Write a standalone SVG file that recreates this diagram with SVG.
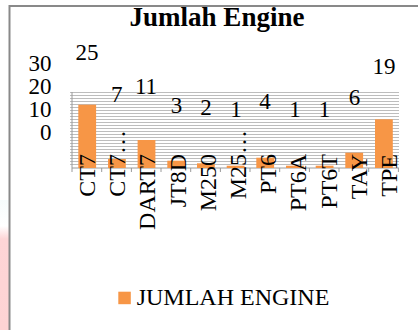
<svg xmlns="http://www.w3.org/2000/svg" width="418" height="330" viewBox="0 0 418 330" font-family="'Liberation Serif', 'Times New Roman', 'DejaVu Serif', serif">
  <defs>
    <linearGradient id="pinkfade" x1="0" y1="0" x2="0" y2="1">
      <stop offset="0" stop-color="#f6fcfc"/>
      <stop offset="0.2" stop-color="#ffffff"/>
      <stop offset="0.3" stop-color="#fdd5d6"/>
      <stop offset="1" stop-color="#fdd3d4"/>
    </linearGradient>
  </defs>
  <style>
    text { font-family: 'Liberation Serif', 'Times New Roman', 'DejaVu Serif', serif; fill: #000; }
    .t { font-size: 24px; }
    .title { font-size: 27px; font-weight: bold; }
    .grid line { stroke: #bdbdbd; stroke-width: 1; }
    .bar { fill: #f79646; }
    .cat { font-size: 24px; text-anchor: end; }
    .val { font-size: 23px; text-anchor: middle; }
    .ax { font-size: 23px; text-anchor: end; }
  </style>
  <rect x="0" y="0" width="418" height="330" fill="#ffffff"/>
  <rect x="0" y="200" width="9" height="130" fill="url(#pinkfade)"/>
  <path d="M9.5,330 V6 H418" fill="none" stroke="#898989" stroke-width="2"/>

  <g id="title">
    <text class="title" x="217" y="26" text-anchor="middle">Jumlah Engine</text>
  </g>

  <g id="y-axis-labels">
    <text class="ax" x="51.5" y="71">30</text>
    <text class="ax" x="51.5" y="94">20</text>
    <text class="ax" x="51.5" y="117">10</text>
    <text class="ax" x="51.5" y="140">0</text>
  </g>

  <g id="grid" class="grid">
    <line x1="70" y1="92.5" x2="399" y2="92.5"/>
    <line x1="70" y1="95.5" x2="399" y2="95.5"/>
    <line x1="70" y1="98.5" x2="399" y2="98.5"/>
    <line x1="70" y1="101.5" x2="399" y2="101.5"/>
    <line x1="70" y1="104.5" x2="399" y2="104.5"/>
    <line x1="70" y1="107.5" x2="399" y2="107.5"/>
    <line x1="70" y1="110.5" x2="399" y2="110.5"/>
    <line x1="70" y1="113.5" x2="399" y2="113.5"/>
    <line x1="70" y1="116.5" x2="399" y2="116.5"/>
    <line x1="70" y1="119.5" x2="399" y2="119.5"/>
    <line x1="70" y1="122.5" x2="399" y2="122.5"/>
    <line x1="70" y1="125.5" x2="399" y2="125.5"/>
    <line x1="70" y1="128.5" x2="399" y2="128.5"/>
    <line x1="70" y1="131.5" x2="399" y2="131.5"/>
    <line x1="70" y1="134.5" x2="399" y2="134.5"/>
    <line x1="70" y1="137.5" x2="399" y2="137.5"/>
    <line x1="70" y1="140.5" x2="399" y2="140.5"/>
    <line x1="70" y1="143.5" x2="399" y2="143.5"/>
    <line x1="70" y1="146.5" x2="399" y2="146.5"/>
    <line x1="70" y1="149.5" x2="399" y2="149.5"/>
    <line x1="70" y1="152.5" x2="399" y2="152.5"/>
    <line x1="70" y1="155.5" x2="399" y2="155.5"/>
    <line x1="70" y1="158.5" x2="399" y2="158.5"/>
    <line x1="70" y1="161.5" x2="399" y2="161.5"/>
    <line x1="70" y1="164.5" x2="399" y2="164.5"/>
  </g>

  <g id="axes" stroke="#9a9a9a" stroke-width="1">
    <line x1="72" y1="92" x2="72" y2="168"/>
    <line x1="72" y1="168" x2="399" y2="168"/>
    <line x1="72" y1="168" x2="72" y2="172"/>
    <line x1="101.7" y1="168" x2="101.7" y2="172"/>
    <line x1="131.4" y1="168" x2="131.4" y2="172"/>
    <line x1="161" y1="168" x2="161" y2="172"/>
    <line x1="190.7" y1="168" x2="190.7" y2="172"/>
    <line x1="220.4" y1="168" x2="220.4" y2="172"/>
    <line x1="250" y1="168" x2="250" y2="172"/>
    <line x1="279.7" y1="168" x2="279.7" y2="172"/>
    <line x1="309.4" y1="168" x2="309.4" y2="172"/>
    <line x1="339" y1="168" x2="339" y2="172"/>
    <line x1="368.7" y1="168" x2="368.7" y2="172"/>
    <line x1="398.4" y1="168" x2="398.4" y2="172"/>
  </g>

  <g id="bars">
    <rect class="bar" x="78.3" y="104.7" width="17.8" height="63.3"/>
    <rect class="bar" x="108" y="159" width="17.8" height="9"/>
    <rect class="bar" x="137.6" y="140" width="17.8" height="28"/>
    <rect class="bar" x="167.3" y="160.7" width="17.8" height="7.3"/>
    <rect class="bar" x="197" y="163.3" width="17.8" height="4.7"/>
    <rect class="bar" x="226.7" y="165.7" width="17.8" height="2.3"/>
    <rect class="bar" x="256.3" y="157.7" width="17.8" height="10.3"/>
    <rect class="bar" x="286" y="165.7" width="17.8" height="2.3"/>
    <rect class="bar" x="315.7" y="165.7" width="17.8" height="2.3"/>
    <rect class="bar" x="345.3" y="152.7" width="17.8" height="15.3"/>
    <rect class="bar" x="375" y="119.3" width="17.8" height="48.7"/>
  </g>

  <g id="value-labels">
    <text class="val" x="87" y="60">25</text>
    <text class="val" x="116.7" y="101.7">7</text>
    <text class="val" x="146" y="94.3">11</text>
    <text class="val" x="176.5" y="113.3">3</text>
    <text class="val" x="206" y="115">2</text>
    <text class="val" x="236" y="117.3">1</text>
    <text class="val" x="265" y="109.3">4</text>
    <text class="val" x="295" y="117.3">1</text>
    <text class="val" x="324.5" y="117.3">1</text>
    <text class="val" x="354.5" y="105">6</text>
    <text class="val" x="384" y="74">19</text>
  </g>

  <g id="category-labels">
    <text class="cat" transform="translate(95,154) rotate(-90)">CT7</text>
    <text class="cat" transform="translate(125.2,130) rotate(-90)">CT7…</text>
    <text class="cat" transform="translate(155.4,154) rotate(-90)">DART7</text>
    <text class="cat" transform="translate(185.6,154) rotate(-90)">JT8D</text>
    <text class="cat" transform="translate(215.8,154) rotate(-90)">M250</text>
    <text class="cat" transform="translate(246,130) rotate(-90)">M25…</text>
    <text class="cat" transform="translate(276.2,154) rotate(-90)">PT6</text>
    <text class="cat" transform="translate(306.4,154) rotate(-90)">PT6A</text>
    <text class="cat" transform="translate(336.6,154) rotate(-90)">PT6T</text>
    <text class="cat" transform="translate(366.8,154) rotate(-90)">TAY</text>
    <text class="cat" transform="translate(397,154) rotate(-90)">TPE</text>
  </g>

  <g id="legend">
    <rect class="bar" x="118.3" y="291.7" width="12.5" height="12.5"/>
    <text class="t" x="136.7" y="305">JUMLAH ENGINE</text>
  </g>
</svg>
